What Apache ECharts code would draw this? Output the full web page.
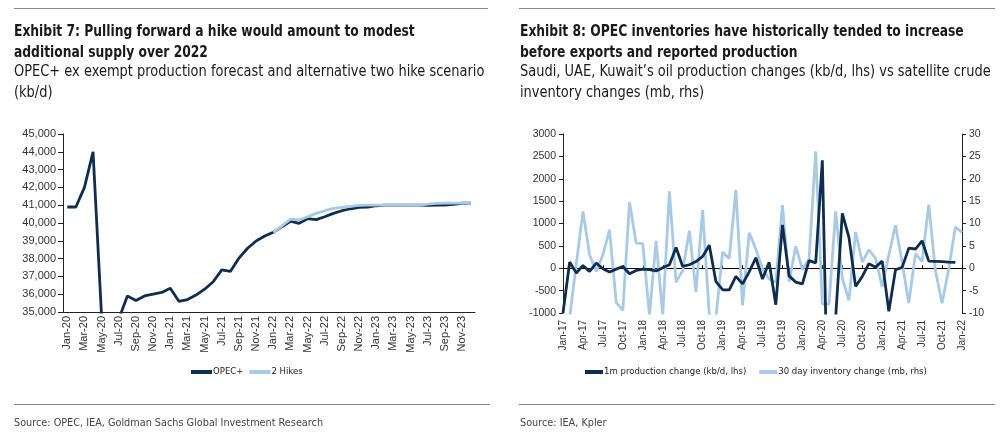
<!DOCTYPE html>
<html><head><meta charset="utf-8">
<script src="https://cdn.jsdelivr.net/npm/echarts@6/dist/echarts.min.js"></script>
<style>html,body{margin:0;padding:0;background:#fff}#c{width:1000px;height:434px}</style>
</head><body><div id="c"></div>
<script>
// ---- Exhibit 7 data ----
const leftCategories = [
 'Jan-20','Feb-20','Mar-20','Apr-20','May-20','Jun-20','Jul-20','Aug-20','Sep-20','Oct-20','Nov-20','Dec-20',
 'Jan-21','Feb-21','Mar-21','Apr-21','May-21','Jun-21','Jul-21','Aug-21','Sep-21','Oct-21','Nov-21','Dec-21',
 'Jan-22','Feb-22','Mar-22','Apr-22','May-22','Jun-22','Jul-22','Aug-22','Sep-22','Oct-22','Nov-22','Dec-22',
 'Jan-23','Feb-23','Mar-23','Apr-23','May-23','Jun-23','Jul-23','Aug-23','Sep-23','Oct-23','Nov-23','Dec-23'];
const opecPlus = [
 40900,40900,42000,44000,34700,34000,34600,35900,35650,35900,36000,36100,
 36330,35600,35700,35950,36280,36700,37370,37280,38030,38580,38990,39270,
 39480,39780,40100,39980,40240,40190,40350,40540,40690,40800,40880,40890,
 40970,41000,41000,41000,41000,41000,40990,41000,41010,41050,41110,41120];
const twoHikes = [
 null,null,null,null,null,null,null,null,null,null,null,null,
 null,null,null,null,null,null,null,null,null,null,null,null,
 39480,39830,40220,40170,40350,40540,40690,40820,40880,40940,40990,41000,
 41000,41000,41000,41000,41000,41010,41060,41100,41120,41120,41120,41120];

// ---- Exhibit 8 data ----
const rightCategories = [
 'Jan-17','Feb-17','Mar-17','Apr-17','May-17','Jun-17','Jul-17','Aug-17','Sep-17','Oct-17','Nov-17','Dec-17',
 'Jan-18','Feb-18','Mar-18','Apr-18','May-18','Jun-18','Jul-18','Aug-18','Sep-18','Oct-18','Nov-18','Dec-18',
 'Jan-19','Feb-19','Mar-19','Apr-19','May-19','Jun-19','Jul-19','Aug-19','Sep-19','Oct-19','Nov-19','Dec-19',
 'Jan-20','Feb-20','Mar-20','Apr-20','May-20','Jun-20','Jul-20','Aug-20','Sep-20','Oct-20','Nov-20','Dec-20',
 'Jan-21','Feb-21','Mar-21','Apr-21','May-21','Jun-21','Jul-21','Aug-21','Sep-21','Oct-21','Nov-21','Dec-21',
 'Jan-22'];
const productionChange = [
 -1000,138,-108,63,-71,115,-10,-85,-20,40,-123,-48,
 -20,-30,-60,10,78,465,40,78,150,263,515,-300,
 -480,-485,-183,-350,-80,235,-240,135,-815,970,-170,-310,
 -350,170,120,2410,-4500,-1100,1225,690,-406,-183,100,25,
 160,-964,-33,20,450,430,614,160,155,150,135,130,
 null];
const inventoryChange = [
 -12,-11,1,12.7,3.0,-0.7,3.0,8.6,-7.6,-9.4,14.8,5.6,
 5.5,-10.5,6.1,-10.5,17.2,-3.1,-0.5,8.4,-5.3,13,-10.5,-11,
 3.6,2.2,17.5,-8.3,7.9,4.3,-0.2,-2.4,-3.1,14.1,-3.0,4.9,
 -0.3,2.1,26.1,-8.0,-8.0,12.7,-2.2,-7.2,8.1,1.4,4.1,2.2,
 -4.1,3.0,9.6,1.3,-7.8,3.2,1.5,14.2,-0.5,-7.8,-0.2,9.2,
 8.0];

const DARK = '#0f2d4f';
const LIGHT = '#a8cae7';
const NARROW = "'DejaVu Sans Condensed','Liberation Sans Narrow',sans-serif";
const AXISFONT = "'Liberation Sans',Arial,sans-serif";
const AXISCOL = '#222';
const LABCOL = '#333';

const chart = echarts.init(document.getElementById('c'), null, {renderer: 'canvas'});

function textEl(x, y, text, size, weight, color, sx) {
  return {type: 'text', left: x, top: y, silent: true, scaleX: sx, scaleY: 1,
    style: {text: text, fontSize: size, fontWeight: weight, fontFamily: NARROW, fill: color, lineHeight: 21}};
}
function rule(x1, x2, y) {
  return {type: 'line', silent: true, shape: {x1: x1, y1: y, x2: x2, y2: y}, style: {stroke: '#8a8a8a', lineWidth: 1}};
}

chart.setOption({
  animation: false,
  backgroundColor: '#fff',
  grid: [
    {left: 63, right: 525, top: 134, bottom: 122, containLabel: false},
    {left: 563, right: 38, top: 134, bottom: 121, containLabel: false}
  ],
  legend: [
    {data: ['OPEC+', '2 Hikes'], left: 186, top: 362, icon: 'rect', itemWidth: 21, itemHeight: 4, itemGap: 6,
     textStyle: {fontSize: 9.5, fontFamily: NARROW, color: '#222', padding: [0, 0, 0, -4]}},
    {data: ['1m production change (kb/d, lhs)', '30 day inventory change (mb, rhs)'], left: 580, top: 362,
     icon: 'rect', itemWidth: 18, itemHeight: 4, itemGap: 13,
     textStyle: {fontSize: 9.5, fontFamily: NARROW, color: '#222', padding: [0, 0, 0, -4]}}
  ],
  xAxis: [
    {gridIndex: 0, type: 'category', data: leftCategories, boundaryGap: true,
     axisLine: {lineStyle: {color: AXISCOL, width: 1}},
     axisTick: {interval: 1, length: 5, lineStyle: {color: AXISCOL}},
     axisLabel: {interval: 1, rotate: 90, fontSize: 11, fontFamily: AXISFONT, color: LABCOL, margin: 4},
     splitLine: {show: false}},
    {gridIndex: 1, type: 'category', data: rightCategories, boundaryGap: false, position: 'bottom',
     axisLine: {show: false, onZero: false},
     axisTick: {show: false},
     axisLabel: {interval: 2, rotate: 90, fontSize: 10, fontFamily: AXISFONT, color: LABCOL, margin: 7},
     splitLine: {show: false}},
    {gridIndex: 1, type: 'category', data: rightCategories, boundaryGap: false, position: 'top',
     axisLine: {show: true, onZero: true, onZeroAxisIndex: 1, lineStyle: {color: '#000', width: 1}},
     axisTick: {show: true, interval: 2, length: 3, lineStyle: {color: '#000'}},
     axisLabel: {show: false}, splitLine: {show: false}}
  ],
  yAxis: [
    {gridIndex: 0, type: 'value', min: 35000, max: 45000, interval: 1000,
     axisLine: {show: true, lineStyle: {color: AXISCOL}},
     axisTick: {show: true, length: 5, lineStyle: {color: AXISCOL}},
     axisLabel: {fontSize: 11, fontFamily: AXISFONT, color: LABCOL, margin: 7,
       formatter: v => v.toLocaleString('en-US')},
     splitLine: {show: false}},
    {gridIndex: 1, type: 'value', min: -1000, max: 3000, interval: 500, position: 'left',
     axisLine: {show: true, lineStyle: {color: AXISCOL}},
     axisTick: {show: true, length: 4, lineStyle: {color: AXISCOL}},
     axisLabel: {fontSize: 10.5, fontFamily: AXISFONT, color: LABCOL, margin: 7, formatter: v => String(v)},
     splitLine: {show: false}},
    {gridIndex: 1, type: 'value', min: -10, max: 30, interval: 5, position: 'right',
     axisLine: {show: true, lineStyle: {color: AXISCOL}},
     axisTick: {show: true, length: 4, lineStyle: {color: AXISCOL}},
     axisLabel: {fontSize: 10.5, fontFamily: AXISFONT, color: LABCOL, margin: 7, formatter: v => String(v)},
     splitLine: {show: false}}
  ],
  series: [
    {name: 'OPEC+', type: 'line', xAxisIndex: 0, yAxisIndex: 0, data: opecPlus, showSymbol: false, symbol: 'none',
     color: DARK, itemStyle: {color: DARK}, lineStyle: {color: DARK, width: 2.8}, clip: true, z: 2},
    {name: '2 Hikes', type: 'line', xAxisIndex: 0, yAxisIndex: 0, data: twoHikes, showSymbol: false, symbol: 'none',
     color: LIGHT, itemStyle: {color: LIGHT}, lineStyle: {color: LIGHT, width: 2.8}, clip: true, z: 3},
    {name: '1m production change (kb/d, lhs)', type: 'line', xAxisIndex: 1, yAxisIndex: 1, data: productionChange,
     showSymbol: false, symbol: 'none', color: DARK, itemStyle: {color: DARK}, lineStyle: {color: DARK, width: 2.8}, clip: true, z: 4},
    {name: '30 day inventory change (mb, rhs)', type: 'line', xAxisIndex: 1, yAxisIndex: 2, data: inventoryChange,
     showSymbol: false, symbol: 'none', color: LIGHT, itemStyle: {color: LIGHT}, lineStyle: {color: LIGHT, width: 2.8}, clip: true, z: 2}
  ],
  graphic: [
    rule(14, 488, 8.5),
    rule(519, 995, 8.5),
    rule(14, 490, 404.5),
    rule(519, 995, 404.5),
    textEl(14, 21, 'Exhibit 7: Pulling forward a hike would amount to modest\nadditional supply over 2022', 16, 'bold', '#1a1a1a', 0.855),
    textEl(14, 62, 'OPEC+ ex exempt production forecast and alternative two hike scenario\n(kb/d)', 15, 'normal', '#1a1a1a', 0.963),
    textEl(520, 21, 'Exhibit 8: OPEC inventories have historically tended to increase\nbefore exports and reported production', 16, 'bold', '#1a1a1a', 0.855),
    textEl(520, 62, 'Saudi, UAE, Kuwait\u2019s oil production changes (kb/d, lhs) vs satellite crude\ninventory changes (mb, rhs)', 15, 'normal', '#1a1a1a', 0.963),
    textEl(14, 413, 'Source: OPEC, IEA, Goldman Sachs Global Investment Research', 11, 'normal', '#444', 0.98),
    textEl(520, 413, 'Source: IEA, Kpler', 11, 'normal', '#444', 0.98)
  ]
});
</script>
</body></html>
